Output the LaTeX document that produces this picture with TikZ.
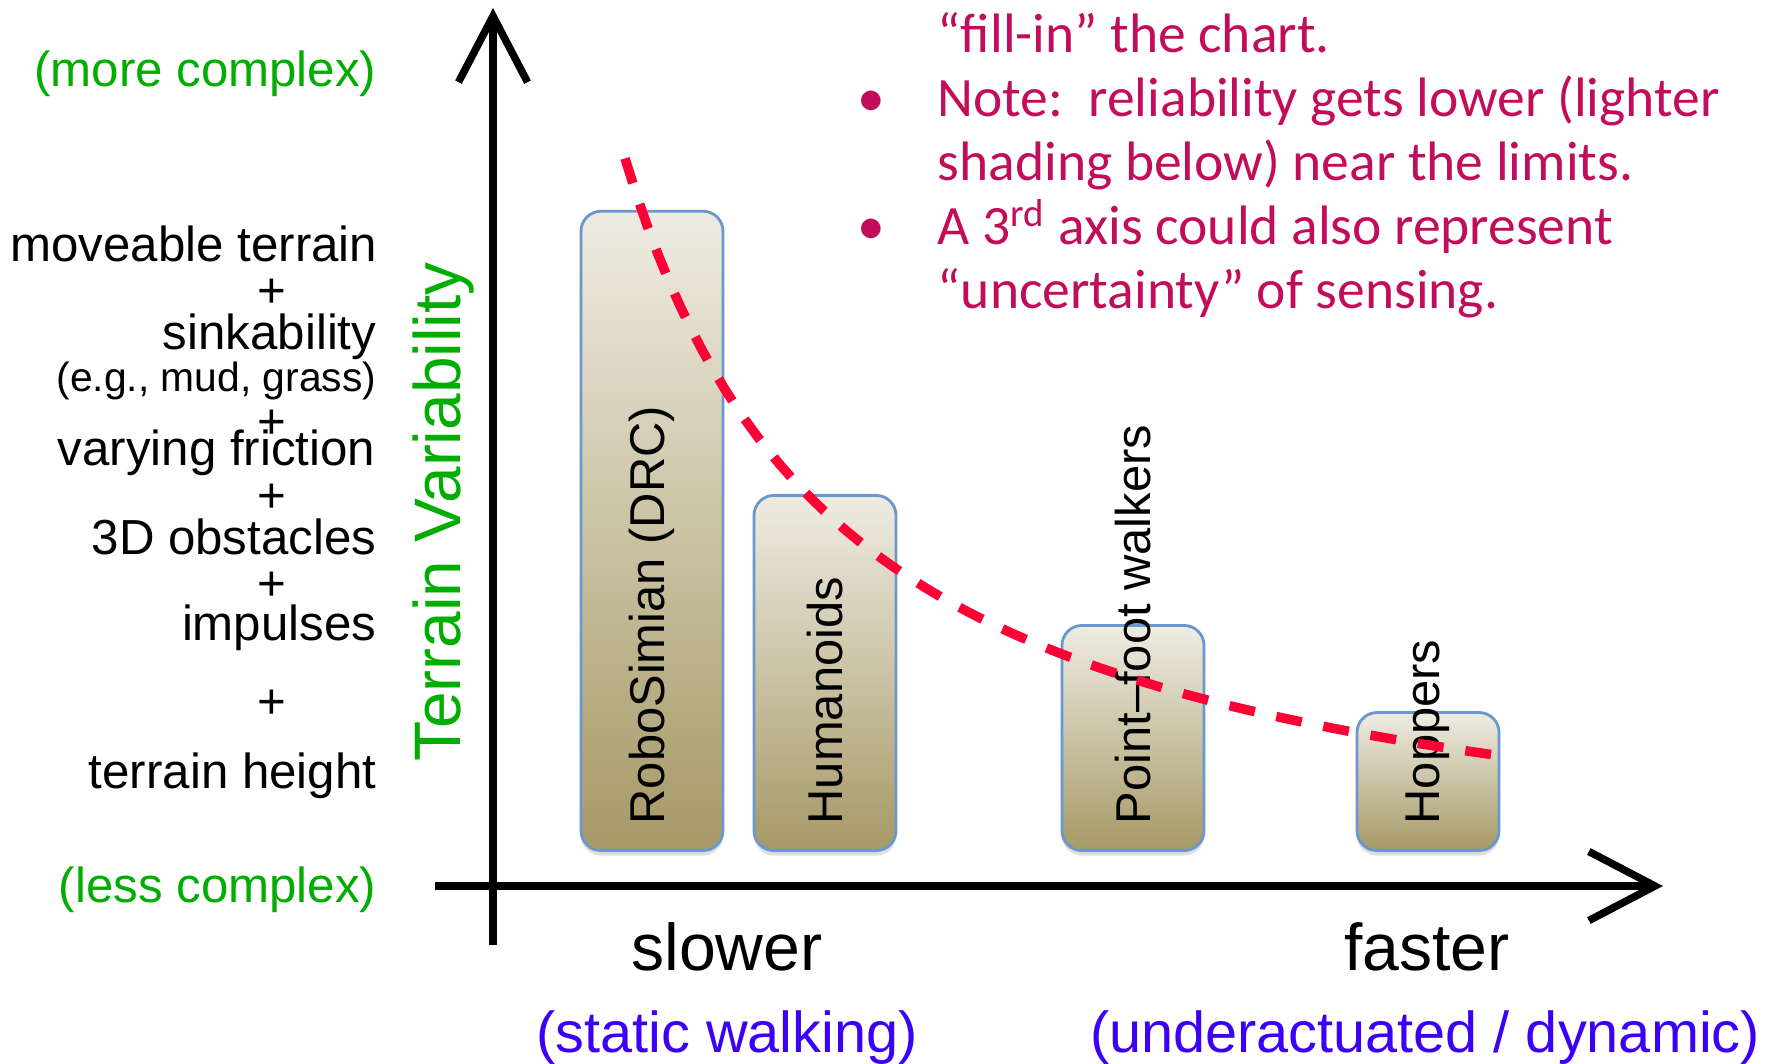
\documentclass[tikz,border=0pt]{standalone}
\usepackage{fontspec}
\setmainfont{Liberation Sans}
\newfontfamily\notefont{Carlito}
\usetikzlibrary{arrows.meta,shadows}
\definecolor{AxisGreen}{HTML}{00AD00}
\definecolor{SpeedBlue}{HTML}{3C00F5}
\definecolor{NoteRed}{HTML}{C20E5A}
\definecolor{LimitRed}{HTML}{FF0035}
\definecolor{BarEdge}{HTML}{6A98CE}
\definecolor{BarTop}{HTML}{EEECE3}
\definecolor{BarBottom}{HTML}{A69966}
\tikzset{
 axis/.style={line width=0.075cm, -{Straight Barb[length=0.66cm,width=0.69cm]}},
 bar/.style={draw=BarEdge, line width=0.8pt, rounded corners=0.2cm, top color=BarTop, bottom color=BarBottom, minimum width=1.42cm, inner sep=0pt, anchor=south, drop shadow={shadow xshift=0pt, shadow yshift=-0.05cm, opacity=0.25}},
 barlabel/.style={rotate=90, anchor=west, font=\fontsize{13.9}{16}\selectfont, inner sep=0pt},
 leftlabel/.style={anchor=base east, font=\fontsize{14}{16}\selectfont, inner sep=0pt},
 plus/.style={font=\fontsize{14}{16}\selectfont, inner sep=0pt},
 speed/.style={anchor=base, font=\fontsize{18.8}{22}\selectfont, inner sep=0pt},
 mode/.style={anchor=base, font=\fontsize{16.4}{20}\selectfont, text=SpeedBlue, inner sep=0pt},
 limit/.style={LimitRed, line width=0.095cm, dash pattern=on 0.26cm off 0.22cm},
 notes/.style={anchor=base west, inner sep=0pt, text=NoteRed, font=\notefont\fontsize{15.8}{18.2}\selectfont}
}

\begin{document}
\begin{tikzpicture}[x=0.01cm,y=-0.01cm]
\useasboundingbox (0,0) rectangle (1779,1063);
\coordinate (origin) at (493,886);
\coordinate (ytip) at (493,8);
\coordinate (ybot) at (493,945);
\coordinate (xleft) at (435,886);
\coordinate (xtip) at (1663,886);
\draw[axis] (ybot) -- (ytip);
\draw[axis] (xleft) -- (xtip);

\node[bar, minimum height=6.39cm] (robo) at (652,852) {};
\node[bar, minimum height=3.55cm] (human) at (825,852) {};
\node[bar, minimum height=2.25cm] (point) at (1133,852) {};
\node[bar, minimum height=1.38cm] (hop) at (1428,852) {};
\node[barlabel] (robotext) at ([yshift=0.27cm]robo.south) {RoboSimian (DRC)};
\node[barlabel] (humantext) at ([yshift=0.27cm]human.south) {Humanoids};
\node[barlabel] (pointtext) at ([yshift=0.27cm]point.south) {Point–foot walkers};
\node[barlabel] (hoptext) at ([yshift=0.27cm]hop.south) {Hoppers};

\draw[limit] plot[domain=625:1500, samples=80] (\x, {909.3-1689.58/((\x-400)/100)});

\node[leftlabel, text=AxisGreen] (more) at (377,86) {(more complex)};
\node[leftlabel] (move) at (378,261) {moveable terrain};
\node[leftlabel] (sink) at (377,349) {sinkability};
\node[leftlabel, font=\fontsize{11.6}{14}\selectfont] (mud) at (377,391) {(e.g., mud, grass)};
\node[leftlabel] (fric) at (376,465) {varying friction};
\node[leftlabel] (obst) at (377,554) {3D obstacles};
\node[leftlabel] (impul) at (377,640) {impulses};
\node[leftlabel] (height) at (377,788) {terrain height};
\node[leftlabel, text=AxisGreen] (less) at (377,902) {(less complex)};
\foreach \y/\n in {293/plusa,424/plusb,498/plusc,586/plusd,704/pluse}
  \node[plus] (\n) at (272,\y) {+};

\node[rotate=90, anchor=base, inner sep=0pt, text=AxisGreen, font=\fontsize{18.7}{22}\selectfont] (tv) at (460,512) {Terrain Variability};

\node[speed] (slow) at (727,970) {slower};
\node[speed] (fast) at (1427,970) {faster};
\node[mode] (static) at (727,1052) {(static walking)};
\node[mode] (dyn) at (1425,1052) {(underactuated / dynamic)};

\node[notes] (notes) at (937,52) {\begin{tabular}[t]{@{}l@{}}
“fill-in” the chart.\\
\llap{\textbullet\hspace{0.53cm}}Note:\ \ reliability gets lower (lighter\\
shading below) near the limits.\\
\llap{\textbullet\hspace{0.53cm}}A 3\textsuperscript{rd} axis could also represent\\
“uncertainty” of sensing.
\end{tabular}};
\end{tikzpicture}
\end{document}
